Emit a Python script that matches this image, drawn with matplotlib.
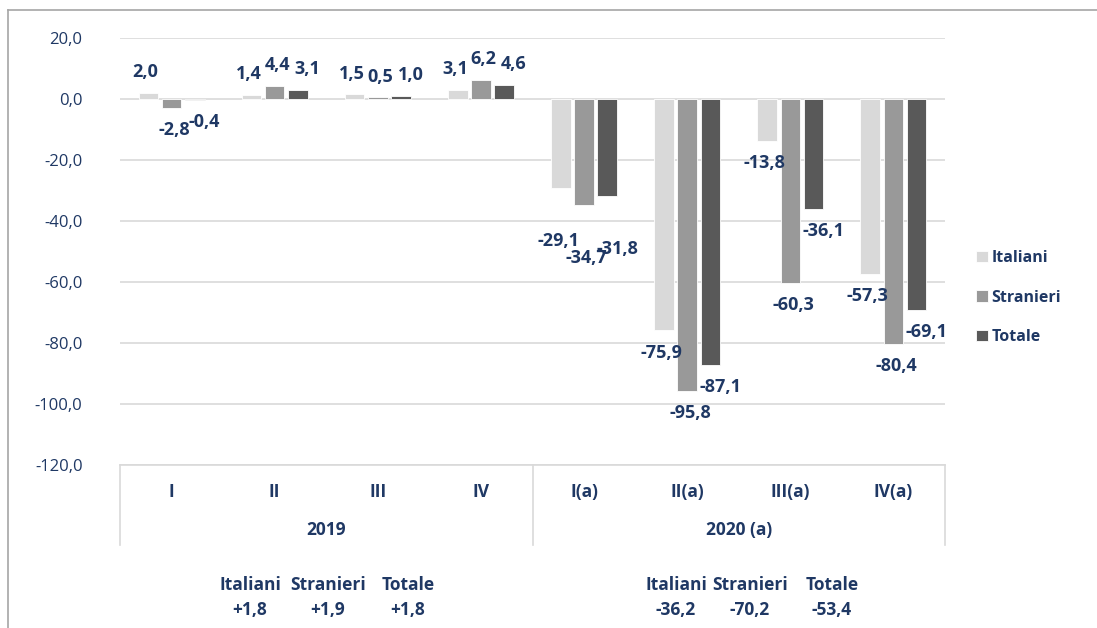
import numpy as np
import matplotlib.pyplot as plt
from matplotlib.lines import Line2D

# Data
quarters = ["I", "II", "III", "IV", "I(a)", "II(a)", "III(a)", "IV(a)"]
years = ["2019", "2020 (a)"]
series = ["Italiani", "Stranieri", "Totale"]
italiani = [2.0, 1.4, 1.5, 3.1, -29.1, -75.9, -13.8, -57.3]
stranieri = [-2.8, 4.4, 0.5, 6.2, -34.7, -95.8, -60.3, -80.4]
totale = [-0.4, 3.1, 1.0, 4.6, -31.8, -87.1, -36.1, -69.1]
annual_2019 = ["+1,8", "+1,9", "+1,8"]
annual_2020 = ["-36,2", "-70,2", "-53,4"]

colors = ["#d9d9d9", "#999999", "#595959"]
txt = "#1f3864"
grid_c = "#d9d9d9"

plt.rcParams['font.family'] = ['Open Sans', 'DejaVu Sans']

fig = plt.figure(figsize=(10.97, 6.28), dpi=100)
ax = fig.add_axes([120 / 1097, 1 - 465 / 628, 825 / 1097, 427 / 628])

x = np.arange(len(quarters))
w = 0.19
step = 0.225
values = [italiani, stranieri, totale]
# label x offsets (points) per series
dx = [-2, 2, 7]
for i, (vals, c, name) in enumerate(zip(values, colors, series)):
    xs = x + (i - 1) * step
    ax.bar(xs, vals, width=w, color=c, edgecolor="white", linewidth=0.6,
           label=name, zorder=3)
    for j, (xx, v) in enumerate(zip(xs, vals)):
        oy = 15 if v >= 0 else -16
        extra = -22 if j == 4 else 0
        ax.annotate(f"{v:.1f}".replace(".", ","), (xx, v),
                    xytext=(dx[i], oy + extra), textcoords="offset points",
                    ha="center", va="center", fontsize=13, fontweight="bold",
                    color=txt, zorder=5)

ax.set_xlim(-0.5, 7.5)
ax.set_ylim(-120, 20)
ax.set_yticks(np.arange(-120, 21, 20))
ax.set_yticklabels([f"{t:.1f}".replace(".", ",") for t in np.arange(-120, 21, 20)])
ax.tick_params(axis="y", length=0, pad=27, labelsize=12, labelcolor=txt)
ax.set_xticks([])
ax.grid(axis="y", color=grid_c, linewidth=1.2, zorder=0)
for s in ["top", "right", "left"]:
    ax.spines[s].set_visible(False)
ax.spines["bottom"].set_color(grid_c)
ax.spines["bottom"].set_linewidth(1.2)

# category axis box
trans = ax.get_xaxis_transform()
for xb in [-0.5, 3.5, 7.5]:
    ax.plot([xb, xb], [0, -80 / 427], transform=trans, color=grid_c,
            linewidth=1.2, clip_on=False)
for xx, q in zip(x, quarters):
    ax.text(xx, -27 / 427, q, transform=trans, ha="center", va="center",
            fontsize=12.5, fontweight="bold", color=txt)
ax.text(1.5, -65 / 427, years[0], transform=trans, ha="center", va="center",
        fontsize=12.5, fontweight="bold", color=txt)
ax.text(5.5, -65 / 427, years[1], transform=trans, ha="center", va="center",
        fontsize=12.5, fontweight="bold", color=txt)

# annual averages below the chart
for xs_px, vals in [([250, 328, 408], annual_2019), ([676, 750, 832], annual_2020)]:
    for px, name, v in zip(xs_px, series, vals):
        fig.text(px / 1097, 1 - 585 / 628, name, ha="center", va="center",
                 fontsize=12.5, fontweight="bold", color=txt)
        fig.text(px / 1097, 1 - 610 / 628, v, ha="center", va="center",
                 fontsize=12.5, fontweight="bold", color=txt)

# legend
leg = fig.legend(loc="upper left", bbox_to_anchor=(962 / 1097, 1 - 236 / 628),
                 frameon=False, fontsize=11.5, handlelength=0.7, handleheight=0.7,
                 handletextpad=0.25, labelspacing=1.45)
for t in leg.get_texts():
    t.set_color(txt)
    t.set_fontweight("bold")

# outer frame (cut at right and bottom)
fy = 1 - 10 / 628
fx = 8 / 1097
fig.add_artist(Line2D([fx, fx], [0, fy], color="#a6a6a6", linewidth=1.2))
fig.add_artist(Line2D([fx, 1], [fy, fy], color="#a6a6a6", linewidth=1.2))

fig.savefig("out.png", dpi=100)
